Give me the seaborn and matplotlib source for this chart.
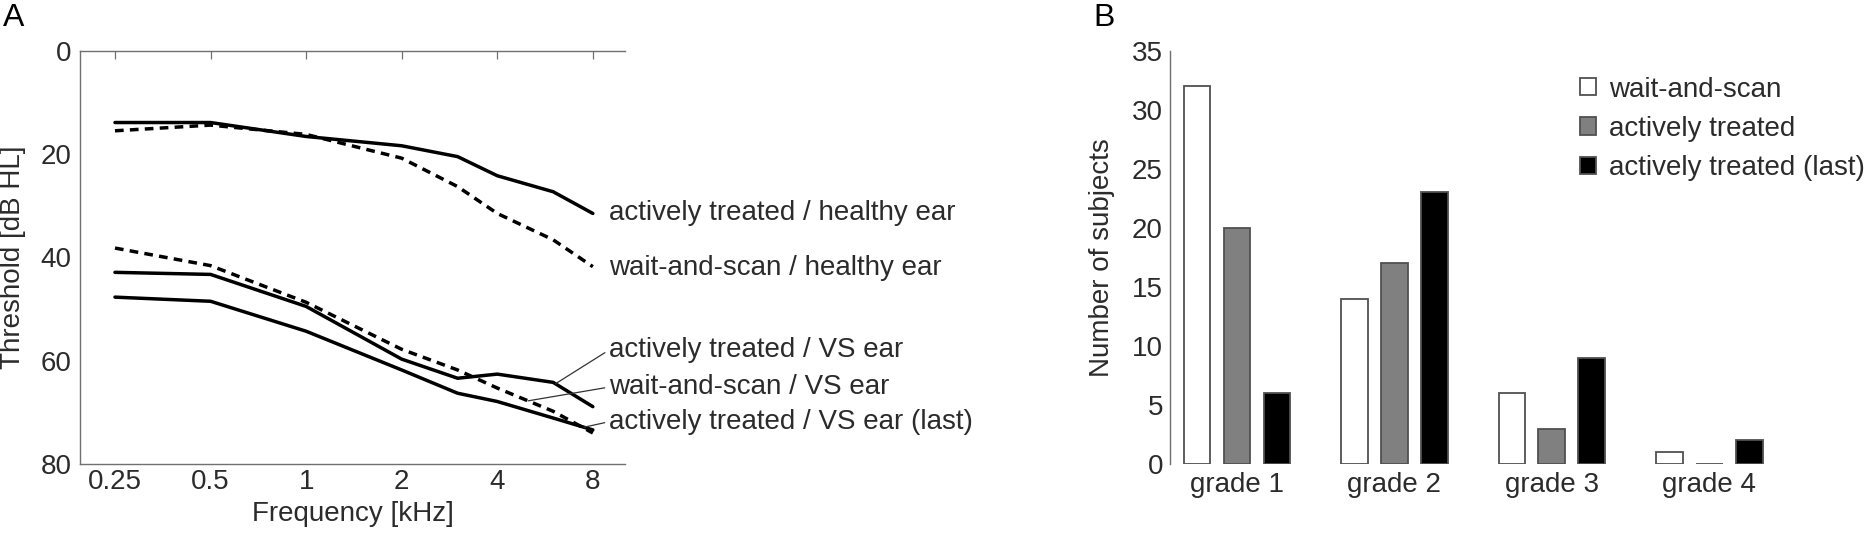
import matplotlib.pyplot as plt
import matplotlib.patches as mpatches
from matplotlib.ticker import NullLocator
import numpy as np
import pandas as pd
import seaborn as sns

# panel A: mean thresholds per frequency (dB HL)
freqs = [0.25, 0.5, 1, 2, 3, 4, 6, 8]
active_healthy = [13.9, 13.9, 16.6, 18.4, 20.5, 24.2, 27.3, 31.5]
wait_healthy = [15.5, 14.4, 16.2, 20.8, 26.3, 31.5, 36.6, 41.8]
active_vs = [42.9, 43.3, 49.5, 59.7, 63.4, 62.6, 64.2, 68.9]
wait_vs = [38.2, 41.6, 48.7, 57.8, 61.8, 65.3, 69.8, 74.0]
active_vs_last = [47.7, 48.5, 54.3, 61.8, 66.3, 67.9, 71.1, 73.4]

series_names = ["actively treated / healthy ear", "wait-and-scan / healthy ear",
                "actively treated / VS ear", "wait-and-scan / VS ear",
                "actively treated / VS ear (last)"]
series_dashed = [False, True, False, True, False]
label_y = [31.4, 42.0, 57.9, 65.1, 71.8]
leader_freq = [None, None, 6.1, 5.0, 7.5]

freq_ticks = [0.25, 0.5, 1, 2, 4, 8]
freq_ticklabels = ["0.25", "0.5", "1", "2", "4", "8"]
thr_ticks = [0, 10, 20, 30, 40, 50, 60, 70, 80]
thr_ticklabels = ["0", "", "20", "", "40", "", "60", "", "80"]

# panel B: number of subjects per grade
grades = ["grade 1", "grade 2", "grade 3", "grade 4"]
groups = ["wait-and-scan", "actively treated", "actively treated (last)"]
wait_and_scan = [32, 14, 6, 1]
actively_treated = [20, 17, 3, 0]
actively_treated_last = [6, 23, 9, 2]

sns.set_style("white")
plt.rcParams["font.family"] = ["Liberation Sans", "DejaVu Sans"]

txt = "#2b2b2b"
spine_col = "#707070"
fs = 20

fig = plt.figure(figsize=(18.74, 5.35), dpi=100)
axA = fig.add_axes([0.0427, 0.1327, 0.2908, 0.7725])
axB = fig.add_axes([0.6243, 0.1327, 0.3298, 0.7725])

# ---- panel A
axA.set_xscale("log", base=2)
all_series = [active_healthy, wait_healthy, active_vs, wait_vs, active_vs_last]
for vals, dashed in zip(all_series, series_dashed):
    ls = (0, (2.5, 1.8)) if dashed else "-"
    sns.lineplot(x=freqs, y=vals, ax=axA, color="black", lw=2.5, linestyle=ls)

label_x = 9.02
for name, vals, ty, lf in zip(series_names, all_series, label_y, leader_freq):
    if lf is None:
        axA.text(label_x, ty, name, ha="left", va="center", fontsize=fs, color=txt)
    else:
        ly = np.interp(np.log2(lf), np.log2(freqs), vals)
        axA.annotate(name, xy=(lf, ly), xytext=(label_x, ty), ha="left", va="center",
                     fontsize=fs, color=txt,
                     arrowprops=dict(arrowstyle="-", color="#333333", lw=0.9,
                                     shrinkA=1, shrinkB=0, relpos=(0, 0.5)))

axA.set_xlim(0.194, 10.1)
axA.set_ylim(80, 0)
axA.set_xticks(freq_ticks)
axA.set_xticklabels(freq_ticklabels)
axA.xaxis.set_minor_locator(NullLocator())
axA.set_yticks(thr_ticks)
axA.set_yticklabels(thr_ticklabels)
axA.tick_params(direction="in", length=6, width=0.9, color=spine_col,
                labelsize=fs, labelcolor=txt, top=True, right=False)
axA.tick_params(axis="x", pad=3.5)
axA.tick_params(axis="y", pad=6)
for s in ["left", "top", "bottom"]:
    axA.spines[s].set_color(spine_col)
    axA.spines[s].set_linewidth(1.0)
axA.spines["right"].set_visible(False)
axA.set_xlabel("Frequency [kHz]", fontsize=fs, color=txt)
axA.set_ylabel("Threshold [dB HL]", fontsize=fs, color=txt)
axA.xaxis.set_label_coords(0.5, -0.09)
axA.yaxis.set_label_coords(-0.1, 0.5)

# ---- panel B
dfB = pd.DataFrame({
    "grade": grades * 3,
    "group": [groups[0]] * 4 + [groups[1]] * 4 + [groups[2]] * 4,
    "count": wait_and_scan + actively_treated + actively_treated_last,
})
bar_colors = ["white", "#808080", "black"]
sns.barplot(data=dfB, x="grade", y="count", hue="group", hue_order=groups,
            palette=bar_colors, saturation=1, width=0.76, gap=0.33,
            edgecolor="#505050", linewidth=1.3, legend=False, ax=axB)
axB.set_xlim(-0.426, 3.5)
axB.set_ylim(0, 35)
axB.set_yticks(range(0, 36, 5))
axB.set_xlabel("")
axB.set_ylabel("Number of subjects", fontsize=fs, color=txt)
axB.yaxis.set_label_coords(-0.089, 0.5)
axB.tick_params(axis="y", direction="in", length=6, width=0.9, color=spine_col,
                labelsize=fs, labelcolor=txt, pad=5)
axB.tick_params(axis="x", length=0, labelsize=fs, labelcolor=txt, pad=6)
for s in ["top", "right", "bottom"]:
    axB.spines[s].set_visible(False)
axB.spines["left"].set_color(spine_col)
axB.spines["left"].set_linewidth(1.0)

handles = [mpatches.Patch(facecolor=c, edgecolor="#505050", linewidth=1.3, label=g)
           for c, g in zip(bar_colors, groups)]
leg = axB.legend(handles=handles, loc="upper left", bbox_to_anchor=(1580 / 1874, 0.857),
                 bbox_transform=fig.transFigure, frameon=False, fontsize=fs,
                 borderpad=0, borderaxespad=0, handlelength=0.58, handleheight=0.58,
                 handletextpad=0.45, labelspacing=0.48)
for t in leg.get_texts():
    t.set_color(txt)

fig.text(3 / 1874, 0.995, "A", ha="left", va="top", fontsize=23, color="black")
fig.text(1093 / 1874, 0.995, "B", ha="left", va="top", fontsize=23, color="black")

fig.savefig("out.png", dpi=100)
